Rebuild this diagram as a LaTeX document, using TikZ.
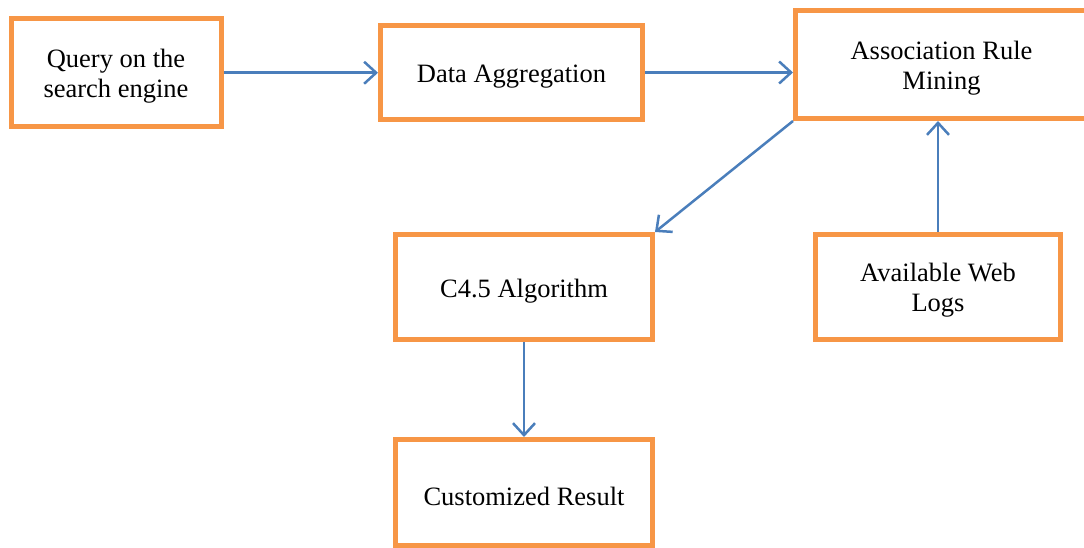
\documentclass[tikz,border=0pt]{standalone}
\usepackage{fontspec}
\setmainfont{Liberation Serif}
\usetikzlibrary{arrows.meta}

\definecolor{boxorange}{HTML}{F79646}
\definecolor{linkblue}{HTML}{4A7EBB}

% raise the first line of a box a little
\newcommand{\stepstrut}{\rule{0pt}{26pt}}

\begin{document}
\begin{tikzpicture}[x=1pt,y=-1pt]

\tikzset{
  step box/.style={
    draw=boxorange,
    line width=5pt,
    fill=white,
    align=center,
    inner sep=2pt,
    font=\fontsize{26.5}{30}\selectfont,
  },
  flow/.style={
    draw=linkblue,
    line width=2.5pt,
    -{Straight Barb[length=12pt,width=22pt]},
  }
}

\useasboundingbox (0,0) rectangle (1084,548);

% Top row
\node[step box, minimum width=210pt, minimum height=108.5pt] (query) at (116,72.75) {\stepstrut Query on the\\search engine};
\node[step box, minimum width=262pt, minimum height=94pt] (agg) at (511.5,72.5) {\stepstrut Data Aggregation};
\node[step box, minimum width=292pt, minimum height=108pt] (arm) at (941.5,64.5) {\stepstrut Association Rule\\Mining};

% Middle row
\node[step box, minimum width=257pt, minimum height=105pt] (algo) at (524,287) {\stepstrut C4.5 Algorithm};
\node[step box, minimum width=245pt, minimum height=105pt] (logs) at (938,286.5) {\stepstrut Available Web\\Logs};

% Bottom row
\node[step box, minimum width=257pt, minimum height=106pt] (result) at (524,492.5) {\stepstrut Customized Result};

% Edges
\draw[flow] (query.east) -- (agg.west |- query.east);
\draw[flow] (agg.east) -- (arm.west |- agg.east);
\draw[flow] (arm.south west) -- (algo.north east);
\draw[flow] (logs.north) -- (logs.north |- arm.south);
\draw[flow] (algo.south) -- (result.north);

\end{tikzpicture}
\end{document}
